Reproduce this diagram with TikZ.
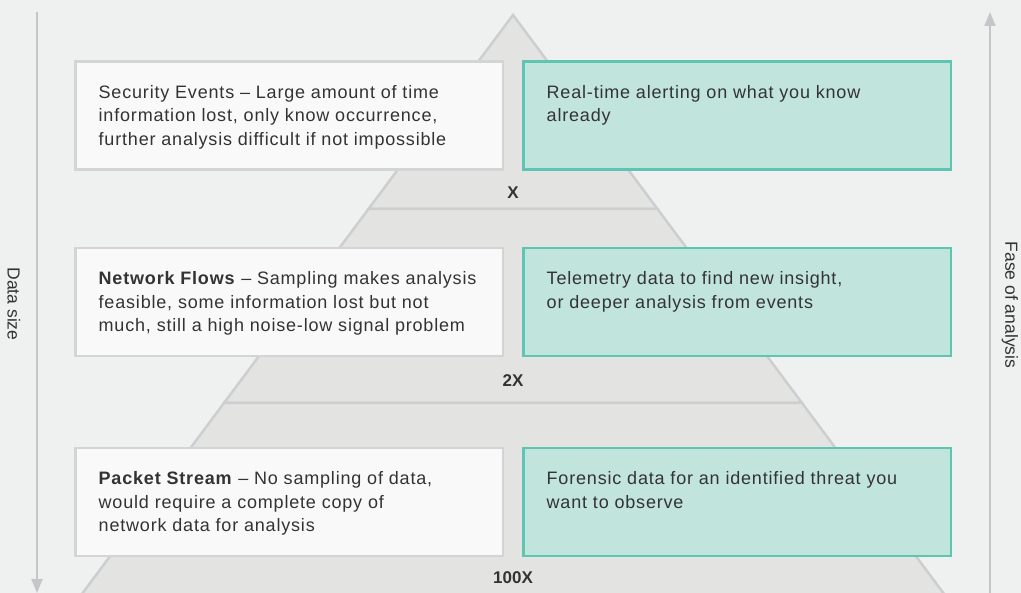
\documentclass[tikz,border=0pt]{standalone}
\usepackage{fontspec}
\setmainfont{Liberation Sans}
\newfontfamily\boxfont[LetterSpace=4.5]{Liberation Sans}
\usetikzlibrary{arrows.meta}

\definecolor{bgcol}{HTML}{EFF0F0}
\definecolor{tierfill}{HTML}{E3E4E2}
\definecolor{tierline}{HTML}{CDCED0}
\definecolor{plainfill}{HTML}{F9F9F9}
\definecolor{plainline}{HTML}{D2D4D6}
\definecolor{tealfill}{HTML}{C1E4DD}
\definecolor{tealline}{HTML}{5DC5B1}
\definecolor{axiscol}{HTML}{C4C6C9}
\definecolor{inkcol}{HTML}{333333}

\tikzset{
    tier/.style={fill=tierfill, draw=tierline, line width=2.5pt},
    plainbox/.style={draw=plainline, fill=plainfill, line width=2.5pt,
        minimum width=427.5pt, minimum height=108pt, inner sep=0pt},
    tealbox/.style={plainbox, draw=tealline, fill=tealfill},
    boxtext/.style={anchor=north west, inner sep=0pt, align=left, text=inkcol,
        font=\boxfont\fontsize{18}{23.5}\selectfont, xshift=24.5pt, yshift=-25pt},
    tierlabel/.style={text=inkcol, font=\fontsize{17}{19}\selectfont\bfseries},
    axis/.style={draw=axiscol, line width=2pt, -{Triangle[width=11pt,length=14pt]}},
    axislabel/.style={text=inkcol, font=\fontsize{17.5}{19}\selectfont, rotate=-90}
}

\begin{document}
\begin{tikzpicture}[x=1pt, y=-1pt]
        % Background, the page is 1021 x 593
        \fill[bgcol] (0,0) rectangle (1021,593);
        \useasboundingbox (0,0) rectangle (1021,593);

        % Three tiers of the pyramid, apex at (513,15)
        \filldraw[tier] (513,15) -- (657.5,209) -- (368.5,209) -- cycle;
        \filldraw[tier] (368.5,209) -- (657.5,209) -- (802,403) -- (224,403) -- cycle;
        \filldraw[tier] (224,403) -- (802,403) -- (950,602) -- (76,602) -- cycle;

        % Factors of each tier
        \node[tierlabel] (fx)   at (513,193) {X};
        \node[tierlabel] (f2x)  at (513,381) {2X};
        \node[tierlabel] (f100x) at (513,578) {100X};

        % Left column: the data sources
        \foreach \name/\y/\txt in {
            events/115.5/{Security Events – Large amount of time\\information lost, only know occurrence,\\further analysis difficult if not impossible},
            flows/302/{\textbf{Network Flows} – Sampling makes analysis\\feasible, some information lost but not\\much, still a high noise-low signal problem},
            packets/502/{\textbf{Packet Stream} – No sampling of data,\\would require a complete copy of\\network data for analysis}} {
            \node[plainbox] (\name) at (289,\y) {};
            \node[boxtext] (\name-text) at (\name.north west) {\txt};
        }

        % Right column: what each source is used for
        \foreach \name/\y/\txt in {
            alerting/115.5/{Real-time alerting on what you know\\already},
            telemetry/302/{Telemetry data to find new insight,\\or deeper analysis from events},
            forensic/502/{Forensic data for an identified threat you\\want to observe}} {
            \node[tealbox] (\name) at (737,\y) {};
            \node[boxtext] (\name-text) at (\name.north west) {\txt};
        }

        % Axes on both sides
        \coordinate (size-top) at (37,12);
        \coordinate (size-end) at (37,593);
        \coordinate (ease-bot) at (990,593);
        \coordinate (ease-end) at (990,12);
        \draw[axis] (size-top) -- (size-end);
        \draw[axis] (ease-bot) -- (ease-end);
        \node[axislabel] (size-label) at (14,304) {Data size};
        \node[axislabel] (ease-label) at (1010,305) {Fase of analysis};
    \end{tikzpicture}
\end{document}
